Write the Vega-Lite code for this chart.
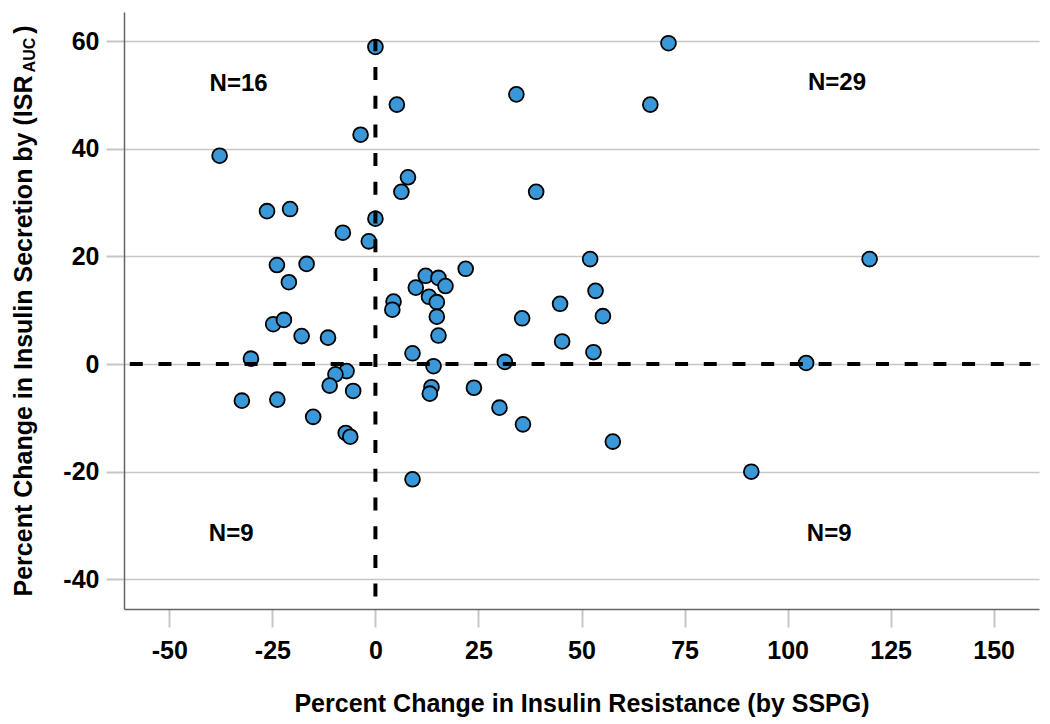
{
  "$schema": "https://vega.github.io/schema/vega-lite/v6.json",
  "width": 915,
  "height": 597,
  "autosize": {"type": "none"},
  "padding": {"left": 124, "top": 12, "right": 11, "bottom": 115},
  "background": "white",
  "config": {"view": {"stroke": null}, "font": "Liberation Sans"},
  "datasets": {
    "points": [
      {"x": -37.8, "y": 38.7}, {"x": -3.6, "y": 42.6}, {"x": -26.3, "y": 28.4}, {"x": -20.7, "y": 28.8},
      {"x": -7.9, "y": 24.4}, {"x": -1.6, "y": 22.8}, {"x": -23.9, "y": 18.4}, {"x": -16.7, "y": 18.6},
      {"x": -21.0, "y": 15.2}, {"x": -24.8, "y": 7.4}, {"x": -22.2, "y": 8.2}, {"x": -17.9, "y": 5.2},
      {"x": -11.5, "y": 4.9}, {"x": -30.2, "y": 1.0}, {"x": 0.0, "y": 58.9}, {"x": 0.0, "y": 27.0},
      {"x": -7.0, "y": -1.3}, {"x": -9.7, "y": -1.9}, {"x": -11.1, "y": -4.0}, {"x": -5.4, "y": -5.0},
      {"x": -32.4, "y": -6.8}, {"x": -23.8, "y": -6.6}, {"x": -15.1, "y": -9.8}, {"x": -7.2, "y": -12.8},
      {"x": -6.1, "y": -13.5},
      {"x": 14.1, "y": -0.4}, {"x": 13.6, "y": -4.3}, {"x": 13.2, "y": -5.5}, {"x": 23.9, "y": -4.4},
      {"x": 30.1, "y": -8.1}, {"x": 35.8, "y": -11.2}, {"x": 9.0, "y": -21.4}, {"x": 57.6, "y": -14.4},
      {"x": 91.2, "y": -20.0},
      {"x": 5.2, "y": 48.2}, {"x": 34.2, "y": 50.1}, {"x": 71.1, "y": 59.6}, {"x": 66.7, "y": 48.2},
      {"x": 7.9, "y": 34.7}, {"x": 6.3, "y": 32.0}, {"x": 39.0, "y": 32.0}, {"x": 4.4, "y": 11.6},
      {"x": 4.1, "y": 10.1}, {"x": 21.9, "y": 17.7}, {"x": 12.2, "y": 16.4}, {"x": 15.3, "y": 16.0},
      {"x": 17.0, "y": 14.5}, {"x": 9.8, "y": 14.2}, {"x": 13.0, "y": 12.5}, {"x": 14.9, "y": 11.5},
      {"x": 14.9, "y": 8.8}, {"x": 15.3, "y": 5.3}, {"x": 35.6, "y": 8.5}, {"x": 44.8, "y": 11.2},
      {"x": 45.3, "y": 4.2}, {"x": 9.0, "y": 2.0}, {"x": 31.4, "y": 0.4}, {"x": 52.1, "y": 19.5},
      {"x": 119.9, "y": 19.5}, {"x": 53.4, "y": 13.6}, {"x": 55.2, "y": 8.9}, {"x": 52.9, "y": 2.2},
      {"x": 104.5, "y": 0.2}
    ],
    "hline": [{"x": -59.6, "x2": 159, "y": 0}],
    "vline": [{"x": 0, "y": -43.2, "y2": 60.2}],
    "labels": [
      {"x": -33.2, "y": 52.1, "label": "N=16"},
      {"x": 112.0, "y": 52.2, "label": "N=29"},
      {"x": -35.0, "y": -31.6, "label": "N=9"},
      {"x": 110.1, "y": -31.6, "label": "N=9"}
    ],
    "sub": [{"x": -83.7, "y": 57.4, "label": "AUC"}]
  },
  "encoding": {
    "x": {
      "field": "x",
      "type": "quantitative",
      "scale": {"domain": [-61, 161], "nice": false, "zero": false},
      "axis": {
        "title": "Percent Change in Insulin Resistance (by SSPG)",
        "values": [-50, -25, 0, 25, 50, 75, 100, 125, 150],
        "labelExpr": "'' + datum.value",
        "grid": false,
        "tickSize": 18,
        "tickColor": "#c6c6c6",
        "tickWidth": 2,
        "domainColor": "#666666",
        "domainWidth": 1.5,
        "labelFont": "Liberation Sans",
        "labelFontWeight": "bold",
        "labelFontSize": 25,
        "labelColor": "black",
        "labelPadding": 11,
        "titleFont": "Liberation Sans",
        "titleFontWeight": "bold",
        "titleFontSize": 25,
        "titleColor": "black",
        "titlePadding": 28
      }
    },
    "y": {
      "field": "y",
      "type": "quantitative",
      "scale": {"domain": [-45.5, 65.4], "nice": false, "zero": false},
      "axis": {
        "title": "Percent Change in Insulin Secretion by (ISR\u00a0\u00a0\u00a0\u00a0\u00a0\u00a0)",
        "values": [-40, -20, 0, 20, 40, 60],
        "labelExpr": "'' + datum.value",
        "grid": true,
        "gridColor": "#c6c6c6",
        "gridWidth": 1.5,
        "tickSize": 18,
        "tickColor": "#c6c6c6",
        "tickWidth": 2,
        "domainColor": "#666666",
        "domainWidth": 1.5,
        "labelFont": "Liberation Sans",
        "labelFontWeight": "bold",
        "labelFontSize": 25,
        "labelColor": "black",
        "labelPadding": 7,
        "titleFont": "Liberation Sans",
        "titleFontWeight": "bold",
        "titleFontSize": 25,
        "titleColor": "black",
        "titlePadding": 26
      }
    }
  },
  "layer": [
    {
      "data": {"name": "points"},
      "mark": {"type": "circle", "size": 220, "fill": "#3a98d8", "stroke": "black", "strokeWidth": 1.8, "opacity": 1}
    },
    {
      "data": {"name": "hline"},
      "mark": {"type": "rule", "color": "black", "strokeWidth": 4, "strokeDash": [13, 15.7]},
      "encoding": {"x2": {"field": "x2"}}
    },
    {
      "data": {"name": "vline"},
      "mark": {"type": "rule", "color": "black", "strokeWidth": 4, "strokeDash": [13, 15.7]},
      "encoding": {"y2": {"field": "y2"}}
    },
    {
      "data": {"name": "labels"},
      "mark": {"type": "text", "font": "Liberation Sans", "fontWeight": "bold", "fontSize": 24, "color": "black", "align": "center", "baseline": "middle"},
      "encoding": {"text": {"field": "label"}}
    },
    {
      "data": {"name": "sub"},
      "mark": {"type": "text", "font": "Liberation Sans", "fontWeight": "bold", "fontSize": 16, "color": "black", "align": "center", "baseline": "middle", "angle": 270},
      "encoding": {"text": {"field": "label"}}
    }
  ]
}
